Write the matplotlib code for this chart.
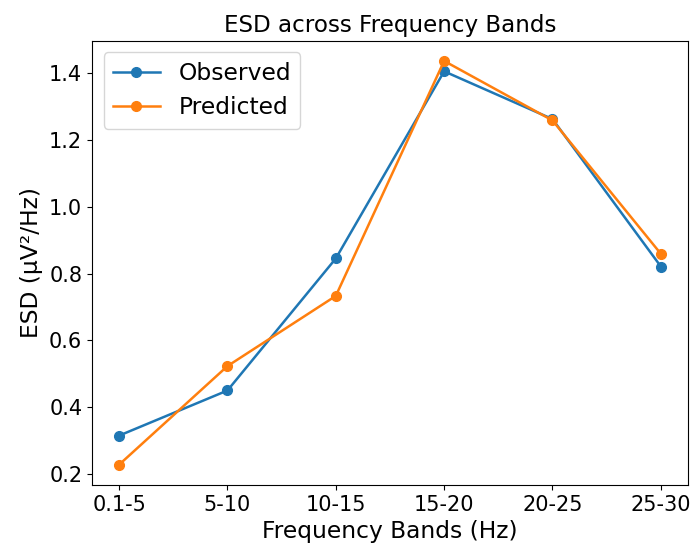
import matplotlib
matplotlib.use("Agg")
import matplotlib.pyplot as plt

# ESD per frequency band
bands = ['0.1-5', '5-10', '10-15', '15-20', '20-25', '25-30']
observed = [0.315, 0.450, 0.845, 1.405, 1.262, 0.821]
predicted = [0.228, 0.523, 0.733, 1.436, 1.258, 0.859]

plt.rcParams['font.size'] = 15

fig, ax = plt.subplots(figsize=(6.97, 5.51), dpi=100)
fig.subplots_adjust(left=0.132, right=0.987, top=0.926, bottom=0.12)

ax.plot(bands, observed, marker='o', markersize=7, linewidth=1.8, label='Observed')
ax.plot(bands, predicted, marker='o', markersize=7, linewidth=1.8, label='Predicted')

ax.set_title('ESD across Frequency Bands', fontsize=16.6)
ax.set_xlabel('Frequency Bands (Hz)', fontsize=16.8)
ax.set_ylabel('ESD (µV²/Hz)', fontsize=16.8)
ax.legend(loc='upper left', fontsize=16.8)

fig.savefig('out.png')
